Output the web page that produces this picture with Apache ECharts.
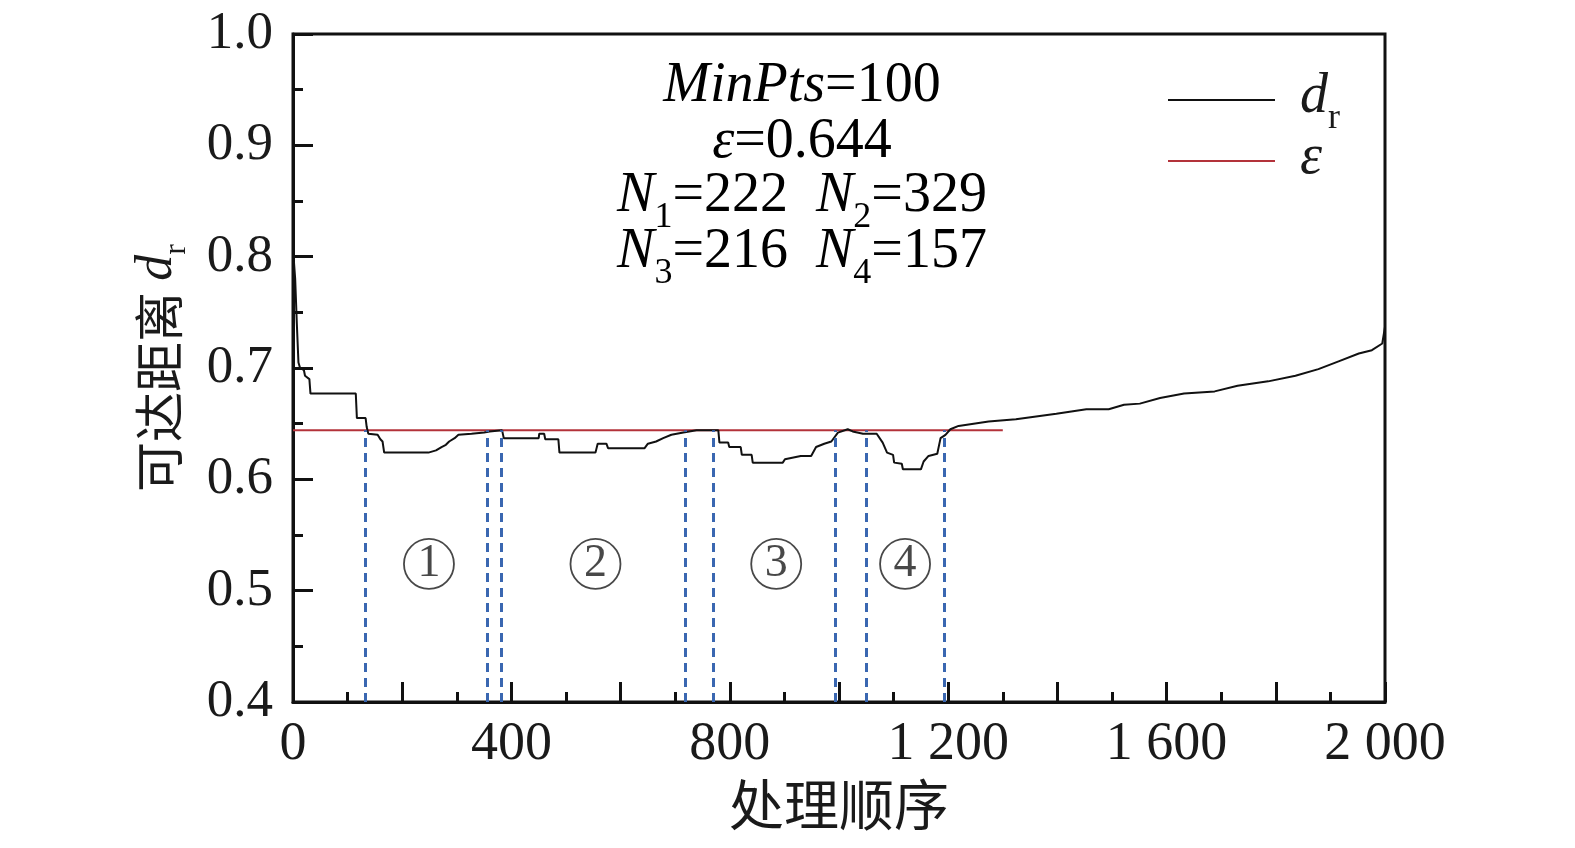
<!DOCTYPE html>
<html>
<head>
<meta charset="utf-8">
<script src="https://cdn.jsdelivr.net/npm/echarts@6/dist/echarts.min.js"></script>
<style>
    html, body {margin: 0; padding: 0; background: #fff; overflow: hidden;}
    #reachChart {width: 1575px; height: 848px;}
</style>
</head>
<body>
<div id="reachChart"></div>
<script type="text/javascript">
    // 处理顺序 / 可达距离
    var orderIdx = [1, 4, 7, 10, 13, 20, 22, 30, 32, 115, 117, 133, 135, 138, 155, 160, 164, 167, 248, 262,
        272, 280, 286, 296, 303, 327, 350, 360, 383, 386, 450, 451, 460, 462, 486, 488, 554, 558, 574, 577,
        644, 650, 665, 678, 693, 715, 739, 779, 781, 797, 799, 820, 822, 840, 842, 897, 901, 930, 949, 958,
        973, 986, 998, 1016, 1025, 1044, 1069, 1080, 1088, 1099, 1101, 1115, 1117, 1150, 1155, 1164, 1180, 1186, 1195, 1204,
        1219, 1274, 1324, 1398, 1453, 1494, 1522, 1551, 1588, 1632, 1688, 1730, 1786, 1836, 1878, 1915, 1952, 1976, 1995, 2000];
    var reachDist = [0.800, 0.780, 0.740, 0.705, 0.700, 0.698, 0.693, 0.690, 0.677, 0.677, 0.655, 0.655, 0.647, 0.641, 0.640, 0.636, 0.634, 0.624, 0.624, 0.626,
        0.629, 0.631, 0.634, 0.637, 0.640, 0.641, 0.642, 0.643, 0.644, 0.637, 0.637, 0.641, 0.641, 0.636, 0.636, 0.624, 0.624, 0.632, 0.632, 0.628,
        0.628, 0.632, 0.634, 0.637, 0.640, 0.642, 0.644, 0.644, 0.633, 0.633, 0.629, 0.629, 0.622, 0.622, 0.615, 0.615, 0.618, 0.621, 0.621, 0.629,
        0.632, 0.634, 0.642, 0.645, 0.643, 0.641, 0.641, 0.633, 0.624, 0.622, 0.615, 0.614, 0.609, 0.609, 0.616, 0.621, 0.623, 0.637, 0.640, 0.645,
        0.648, 0.652, 0.654, 0.659, 0.663, 0.663, 0.667, 0.668, 0.673, 0.677, 0.679, 0.684, 0.688, 0.693, 0.699, 0.706, 0.713, 0.716, 0.722, 0.737];

    var minPts = 100;
    var epsValue = 0.644;
    var epsRange = [0, 1300];
    var clusterSizes = [222, 329, 216, 157];
    var clusterBounds = [133, 356, 382, 718, 770, 994, 1049, 1193];
    var clusterLabels = ['1', '2', '3', '4'];
    var clusterLabelX = [249, 554, 885, 1121];
    var clusterLabelY = 0.524;
    var xLabelStep = 400;

    var serif = '"Times New Roman", "Liberation Serif", "DejaVu Serif", serif';
    var cjk = '"Noto Sans CJK SC", "Liberation Serif", sans-serif';
    var ink = '#1a1a1a';

    var richText = {
        i: {fontFamily: serif, fontStyle: 'italic', fontSize: 56, lineHeight: 62, verticalAlign: 'top', color: ink},
        n: {fontFamily: serif, fontSize: 56, lineHeight: 62, verticalAlign: 'top', color: ink},
        s: {fontFamily: serif, fontSize: 36, lineHeight: 36, padding: [32, 0, 0, 0], verticalAlign: 'top', color: ink}
    };
    var nameRich = {
        i: {fontFamily: serif, fontStyle: 'italic', fontSize: 52, lineHeight: 56, verticalAlign: 'top', color: ink},
        s: {fontFamily: serif, fontSize: 32, lineHeight: 32, padding: [30, 0, 0, 0], verticalAlign: 'top', color: ink}
    };

    function fmtThousand(v) {
        var s = String(v);
        return s.length > 3 ? s.slice(0, s.length - 3) + ' ' + s.slice(s.length - 3) : s;
    }

    var curveData = orderIdx.map(function (x, k) { return [x, reachDist[k]]; });
    var epsData = epsRange.map(function (x) { return [x, epsValue]; });
    var boundLines = clusterBounds.map(function (x) {
        return [{coord: [x, 0.4]}, {coord: [x, epsValue]}];
    });
    var labelData = clusterLabels.map(function (t, k) { return [clusterLabelX[k], clusterLabelY, t]; });

    var annoLines = [
        '{i|MinPts}{n|=' + minPts + '}',
        '{i|ε}{n|=' + epsValue + '}',
        '{i|N}{s|1}{n|=' + clusterSizes[0] + '  }{i|N}{s|2}{n|=' + clusterSizes[1] + '}',
        '{i|N}{s|3}{n|=' + clusterSizes[2] + '  }{i|N}{s|4}{n|=' + clusterSizes[3] + '}'
    ];
    var annoY = [58, 114, 168, 224];

    var chart = echarts.init(document.getElementById('reachChart'));
    var option = {
        animation: false,
        backgroundColor: '#fff',
        grid: {
            left: 293, right: 190, top: 34, bottom: 146, outerBoundsMode: 'none', containLabel: false,
            show: true, borderColor: '#111', borderWidth: 3
        },
        legend: {
            left: 1163, top: 64, orient: 'vertical', itemWidth: 107, itemHeight: 2, itemGap: -7,
            data: [{name: 'dr', icon: 'rect'}, {name: 'eps', icon: 'rect'}],
            formatter: function (name) { return name === 'dr' ? '{i|d}{s|r}' : '{i|ε}'; },
            textStyle: {rich: richText, padding: [0, 0, 0, 20]}
        },
        xAxis: {
            type: 'value', min: 0, max: 2000, interval: 200,
            name: '处理顺序', nameLocation: 'middle', nameGap: 72,
            nameTextStyle: {fontFamily: cjk, fontSize: 55, color: ink},
            axisLine: {lineStyle: {color: '#111', width: 3}},
            axisTick: {inside: true, length: 20, lineStyle: {color: '#111', width: 3}},
            minorTick: {show: true, splitNumber: 2, length: 10, lineStyle: {color: '#111', width: 3}},
            splitLine: {show: false},
            axisLabel: {
                fontFamily: serif, fontSize: 54, color: ink, margin: 16, showMaxLabel: true,
                formatter: function (v) { return v % xLabelStep === 0 ? fmtThousand(v) : ''; }
            }
        },
        yAxis: {
            type: 'value', min: 0.4, max: 1.0, interval: 0.1,
            name: '可达距离 {i|d}{s|r}', nameLocation: 'middle', nameGap: 106,
            nameTextStyle: {fontFamily: cjk, fontSize: 50, color: ink, rich: nameRich},
            axisLine: {lineStyle: {color: '#111', width: 3}},
            axisTick: {inside: true, length: 20, lineStyle: {color: '#111', width: 3}},
            minorTick: {show: true, splitNumber: 2, length: 10, lineStyle: {color: '#111', width: 3}},
            splitLine: {show: false},
            axisLabel: {
                fontFamily: serif, fontSize: 53, color: ink, margin: 20,
                formatter: function (v) { return v.toFixed(1); }
            }
        },
        series: [
            {
                name: 'dr', type: 'line', data: curveData, symbol: 'none', z: 3,
                itemStyle: {color: '#111'},
                lineStyle: {color: '#111', width: 2},
                markLine: {
                    silent: true, symbol: 'none', label: {show: false},
                    lineStyle: {color: '#3a67b1', width: 3, type: [9, 6]},
                    data: boundLines
                }
            },
            {
                name: 'eps', type: 'line', data: epsData, symbol: 'none', z: 2,
                itemStyle: {color: '#b3323a'},
                lineStyle: {color: '#b3323a', width: 2}
            },
            {
                name: 'labels', type: 'scatter', data: labelData, symbol: 'circle', symbolSize: 50, silent: true,
                itemStyle: {color: 'rgba(0,0,0,0)', borderColor: ink, borderWidth: 1.8},
                label: {
                    show: true, position: 'inside', fontFamily: serif, fontSize: 46, color: ink,
                    formatter: function (p) { return p.data[2]; }
                }
            }
        ],
        graphic: annoLines.map(function (t, k) {
            return {
                type: 'text', x: 802, y: annoY[k], silent: true,
                style: {text: t, rich: richText, align: 'center', verticalAlign: 'top'}
            };
        })
    };
    chart.setOption(option);
    window.addEventListener('resize', function () {
        chart.resize();
    });
</script>
</body>
</html>
